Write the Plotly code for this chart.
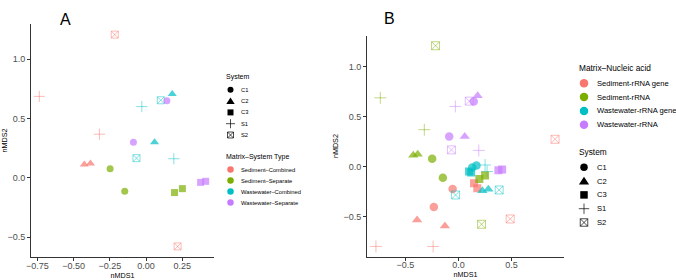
import plotly.graph_objects as go

# ---------------- data ----------------
# rRNA samples (panel A, and the "rRNA" groups of panel B)
rrna_system = ["S2", "S1", "S1", "C2", "C2", "S2", "C1", "C1", "C3", "C3",
               "S1", "S1", "S2", "S2", "C2", "C2", "C1", "C1", "C3", "C3"]
rrna_type = (["Sediment–Combined"] * 6 + ["Sediment–Separate"] * 4 +
             ["Wastewater–Combined"] * 6 + ["Wastewater–Separate"] * 4)
rrna_matrix = ["Sediment"] * 10 + ["Wastewater"] * 10
rrna_nmds1 = [-0.216, -0.737, -0.322, -0.426, -0.384, 0.218, -0.248, -0.147, 0.197, 0.251,
              -0.029, 0.192, 0.102, -0.066, 0.181, 0.059, 0.144, -0.087, 0.377, 0.412]
rrna_nmds2 = [1.208, 0.687, 0.368, 0.113, 0.122, -0.578, 0.077, -0.113, -0.124, -0.091,
              0.601, 0.161, 0.654, 0.166, 0.708, 0.301, 0.651, 0.301, -0.038, -0.029]

# rRNA gene samples (panel B only)
gene_system = ["C1", "C1", "C2", "C2", "C3", "C3", "S1", "S1", "S2", "S2",
               "C1", "C1", "C2", "C2", "C3", "C3", "S1", "S1", "S2", "S2"]
gene_matrix = ["Sediment"] * 10 + ["Wastewater"] * 10
gene_nmds1 = [-0.055, -0.232, -0.390, -0.128, 0.147, 0.178, -0.778, -0.239, 0.911, 0.488,
              0.130, 0.170, 0.226, 0.282, 0.100, 0.120, 0.251, 0.270, -0.027, 0.384]
gene_nmds2 = [-0.225, -0.405, -0.535, -0.595, -0.168, -0.218, -0.800, -0.800, 0.272, -0.525,
              -0.010, 0.010, -0.242, -0.228, -0.050, -0.060, 0.015, -0.050, -0.285, -0.235]

system_levels = ["C1", "C2", "C3", "S1", "S2"]
type_levels = ["Sediment–Combined", "Sediment–Separate", "Wastewater–Combined", "Wastewater–Separate"]
nucleic_levels = ["Sediment-rRNA gene", "Sediment-rRNA", "Wastewater-rRNA gene", "Wastewater-rRNA"]

a_xticks = [-0.75, -0.5, -0.25, 0.0, 0.25]
a_xticklabels = ["−0.75", "−0.50", "−0.25", "0.00", "0.25"]
a_yticks = [-0.5, 0.0, 0.5, 1.0]
b_xticks = [-0.5, 0.0, 0.5]
b_yticks = [-0.5, 0.0, 0.5, 1.0]

# ---------------- styles ----------------
PALETTE = ["#F8766D", "#7CAE00", "#00BFC4", "#C77CFF"]
SYMBOLS = {"C1": "circle", "C2": "triangle-up", "C3": "square",
           "S1": "cross-thin-open", "S2": "square-x-open"}
SIZE_A = {"C1": 7, "C2": 8, "C3": 7, "S1": 8, "S2": 7}
SIZE_B = {"C1": 8.5, "C2": 9, "C3": 8, "S1": 8.5, "S2": 8}
FONT = "Liberation Sans, Arial, Helvetica, sans-serif"
W, H = 676, 280

fig = go.Figure()


def add_points(xs, ys, systems, color, xa, ya, sizes):
    fig.add_trace(go.Scatter(
        x=xs, y=ys, mode="markers", xaxis=xa, yaxis=ya, showlegend=False,
        hoverinfo="skip",
        marker=dict(symbol=[SYMBOLS[s] for s in systems], color=color,
                    size=[sizes[s] for s in systems],
                    line=dict(color=color, width=[0.7 if s in ("S1", "S2") else 0 for s in systems]))))


# Panel A: coloured by matrix-system type
for lvl, col in zip(type_levels, PALETTE):
    idx = [i for i, t in enumerate(rrna_type) if t == lvl]
    add_points([rrna_nmds1[i] for i in idx], [rrna_nmds2[i] for i in idx],
               [rrna_system[i] for i in idx], col, "x", "y", SIZE_A)

# Panel B: coloured by matrix-nucleic acid (gene groups first, then rRNA on top)
gene_cols = {"Sediment": PALETTE[0], "Wastewater": PALETTE[2]}
rrna_cols = {"Sediment": PALETTE[1], "Wastewater": PALETTE[3]}
for m in ["Sediment", "Wastewater"]:
    idx = [i for i, t in enumerate(gene_matrix) if t == m]
    add_points([gene_nmds1[i] for i in idx], [gene_nmds2[i] for i in idx],
               [gene_system[i] for i in idx], gene_cols[m], "x2", "y2", SIZE_B)
for m in ["Sediment", "Wastewater"]:
    idx = [i for i, t in enumerate(rrna_matrix) if t == m]
    add_points([rrna_nmds1[i] for i in idx], [rrna_nmds2[i] for i in idx],
               [rrna_system[i] for i in idx], rrna_cols[m], "x2", "y2", SIZE_B)


def padded(vals):
    lo, hi = min(vals), max(vals)
    p = (hi - lo) * 0.05
    return [lo - p, hi + p]


a_xr = padded(rrna_nmds1)
a_yr = padded(rrna_nmds2)
b_xr = padded(rrna_nmds1 + gene_nmds1)
b_yr = padded(rrna_nmds2 + gene_nmds2)

# ---------------- legends (layout shapes + annotations, pixel positions) ----------------
shapes = []
annotations = []


def px(x):
    return x / W


def py(y):
    return 1 - y / H


def key_shape(sym, cx, cy, size, color):
    r = size / 2.0
    if sym == "circle":
        shapes.append(dict(type="circle", xref="paper", yref="paper",
                           x0=px(cx - r), x1=px(cx + r), y0=py(cy + r), y1=py(cy - r),
                           fillcolor=color, line=dict(width=0)))
    elif sym == "square":
        shapes.append(dict(type="rect", xref="paper", yref="paper",
                           x0=px(cx - r), x1=px(cx + r), y0=py(cy + r), y1=py(cy - r),
                           fillcolor=color, line=dict(width=0)))
    elif sym == "triangle-up":
        rt = r * 1.2
        path = "M{},{} L{},{} L{},{} Z".format(px(cx - rt), py(cy + r * 0.8), px(cx + rt),
                                               py(cy + r * 0.8), px(cx), py(cy - r * 1.0))
        shapes.append(dict(type="path", xref="paper", yref="paper", path=path,
                           fillcolor=color, line=dict(width=0)))
    elif sym == "cross-thin-open":
        rc = r * 1.3
        path = "M{},{} L{},{} M{},{} L{},{}".format(px(cx - rc), py(cy), px(cx + rc), py(cy),
                                                   px(cx), py(cy - rc), px(cx), py(cy + rc))
        shapes.append(dict(type="path", xref="paper", yref="paper", path=path,
                           line=dict(color=color, width=0.7)))
    elif sym == "square-x-open":
        path = ("M{a},{b} L{c},{b} L{c},{d} L{a},{d} Z M{a},{b} L{c},{d} M{a},{d} L{c},{b}"
                .format(a=px(cx - r), b=py(cy - r), c=px(cx + r), d=py(cy + r)))
        shapes.append(dict(type="path", xref="paper", yref="paper", path=path,
                           line=dict(color=color, width=0.7)))


def leg_text(x, y, text, size):
    annotations.append(dict(x=px(x), y=py(y), xref="paper", yref="paper", text=text,
                            showarrow=False, xanchor="left", yanchor="middle",
                            font=dict(family=FONT, size=size, color="#000000")))


def build_legend(x0, key_dx, text_dx, title_y, step, labels, syms, cols, title, tsize, lsize, ksizes):
    leg_text(x0, title_y, title, tsize)
    for k, (lab, sy, co, ks) in enumerate(zip(labels, syms, cols, ksizes)):
        yy = title_y + step * (k + 1) + 1.5
        key_shape(sy, x0 + key_dx, yy, ks, co)
        leg_text(x0 + text_dx, yy, lab, lsize)


# Panel A legends
build_legend(224, 6.5, 15, 77, 11.3, system_levels, [SYMBOLS[s] for s in system_levels],
             ["#000000"] * 5, "System", 7, 5.8, [6, 7, 6, 7, 6])
build_legend(224, 6.5, 15, 157, 11.0, type_levels, ["circle"] * 4, PALETTE,
             "Matrix–System Type", 7, 5.8, [6.5, 6.5, 6.5, 6.5])
# Panel B legends
build_legend(577, 7, 18, 68, 13.8, nucleic_levels, ["circle"] * 4, PALETTE,
             "Matrix–Nucleic acid", 8.3, 7.6, [8.5, 8.5, 8.5, 8.5])
build_legend(577, 7, 18, 152, 13.8, system_levels, [SYMBOLS[s] for s in system_levels],
             ["#000000"] * 5, "System", 8.3, 7.6, [7.5, 8.5, 7.5, 8, 7.5])

# panel tags
annotations.append(dict(x=px(58), y=py(9), xref="paper", yref="paper", text="A",
                        showarrow=False, font=dict(family=FONT, size=16, color="#000000")))
annotations.append(dict(x=px(390), y=py(8), xref="paper", yref="paper", text="B",
                        showarrow=False, font=dict(family=FONT, size=16, color="#000000")))

# ---------------- axes ----------------
def xdom(a, b):
    return [a / W, b / W]


def ydom(top, bottom):
    return [1 - bottom / H, 1 - top / H]


axis_common = dict(showline=True, linecolor="#333333", linewidth=1, ticks="outside",
                   ticklen=3, tickwidth=1, tickcolor="#333333", showgrid=False,
                   zeroline=False, automargin=False, mirror=False,
                   tickfont=dict(family=FONT, size=9, color="#4D4D4D"))
title_font = dict(family=FONT, size=7.2, color="#000000")

fig.update_layout(
    template="none",
    width=W, height=H,
    margin=dict(l=0, r=0, t=0, b=0),
    paper_bgcolor="white", plot_bgcolor="white",
    showlegend=False,
    xaxis=dict(domain=xdom(31, 214), range=a_xr, anchor="y",
               tickvals=a_xticks, ticktext=a_xticklabels, ticklabelstandoff=-3,
               title=dict(text="nMDS1", font=title_font, standoff=1), **axis_common),
    yaxis=dict(domain=ydom(24, 257), range=a_yr, anchor="x",
               tickvals=a_yticks, ticktext=["−0.5", "0.0", "0.5", "1.0"],
               title=dict(text="nMDS2", font=title_font, standoff=3), **axis_common),
    xaxis2=dict(domain=xdom(367, 564), range=b_xr, anchor="y2",
                tickvals=b_xticks, ticktext=["−0.5", "0.0", "0.5"], ticklabelstandoff=-3,
                title=dict(text="nMDS1", font=title_font, standoff=1), **axis_common),
    yaxis2=dict(domain=ydom(35.7, 256.5), range=b_yr, anchor="x2",
                tickvals=b_yticks, ticktext=["−0.5", "0.0", "0.5", "1.0"],
                title=dict(text="nMDS2", font=title_font, standoff=3), **axis_common),
    shapes=shapes,
    annotations=annotations,
)

fig.write_html("out.html", config={"displayModeBar": False},
               post_script="document.body.style.margin='0px';")
